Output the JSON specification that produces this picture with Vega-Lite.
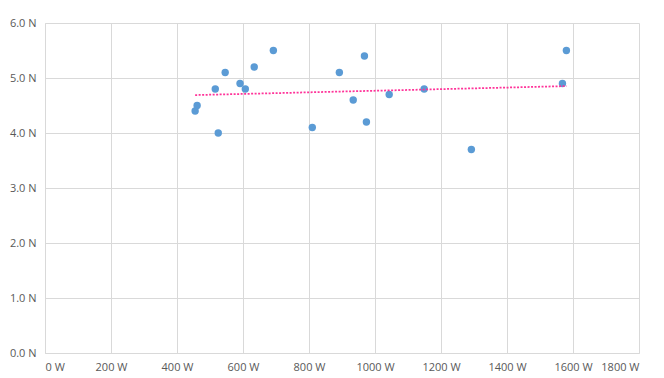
{
  "$schema": "https://vega.github.io/schema/vega-lite/v6.json",
  "width": 594,
  "height": 330,
  "autosize": "none",
  "padding": {"left": 45, "top": 23, "right": 25, "bottom": 25},
  "background": "white",
  "config": {
    "view": {"stroke": null},
    "axis": {
      "labelFont": "Open Sans",
      "labelFontSize": 11,
      "labelColor": "#595959",
      "gridColor": "#D9D9D9",
      "gridWidth": 1,
      "domainColor": "#D9D9D9",
      "ticks": false,
      "title": null
    }
  },
  "data": {
    "values": [
      {"power": 455, "force": 4.4},
      {"power": 461, "force": 4.5},
      {"power": 525, "force": 4.0},
      {"power": 516, "force": 4.8},
      {"power": 546, "force": 5.1},
      {"power": 591, "force": 4.9},
      {"power": 607, "force": 4.8},
      {"power": 634, "force": 5.2},
      {"power": 692, "force": 5.5},
      {"power": 810, "force": 4.1},
      {"power": 892, "force": 5.1},
      {"power": 968, "force": 5.4},
      {"power": 934, "force": 4.6},
      {"power": 974, "force": 4.2},
      {"power": 1043, "force": 4.7},
      {"power": 1149, "force": 4.8},
      {"power": 1292, "force": 3.7},
      {"power": 1568, "force": 4.9},
      {"power": 1580, "force": 5.5}
    ]
  },
  "layer": [
    {
      "mark": {"type": "point", "filled": true, "opacity": 1, "size": 55, "color": "#5B9BD5"},
      "encoding": {
        "x": {
          "field": "power", "type": "quantitative",
          "scale": {"domain": [0, 1800], "nice": false},
          "axis": {"values": [0,200,400,600,800,1000,1200,1400,1600,1800], "labelExpr": "datum.value + ' W'", "labelPadding": 8}
        },
        "y": {
          "field": "force", "type": "quantitative",
          "scale": {"domain": [0, 6], "nice": false},
          "axis": {"values": [0,1,2,3,4,5,6], "labelExpr": "format(datum.value, '.1f') + ' N'", "labelPadding": 9}
        }
      }
    },
    {
      "transform": [{"regression": "force", "on": "power"}],
      "mark": {"type": "line", "color": "#FF3399", "strokeWidth": 1.75, "strokeDash": [2, 1.5]},
      "encoding": {
        "x": {"field": "power", "type": "quantitative"},
        "y": {"field": "force", "type": "quantitative"}
      }
    }
  ]
}
